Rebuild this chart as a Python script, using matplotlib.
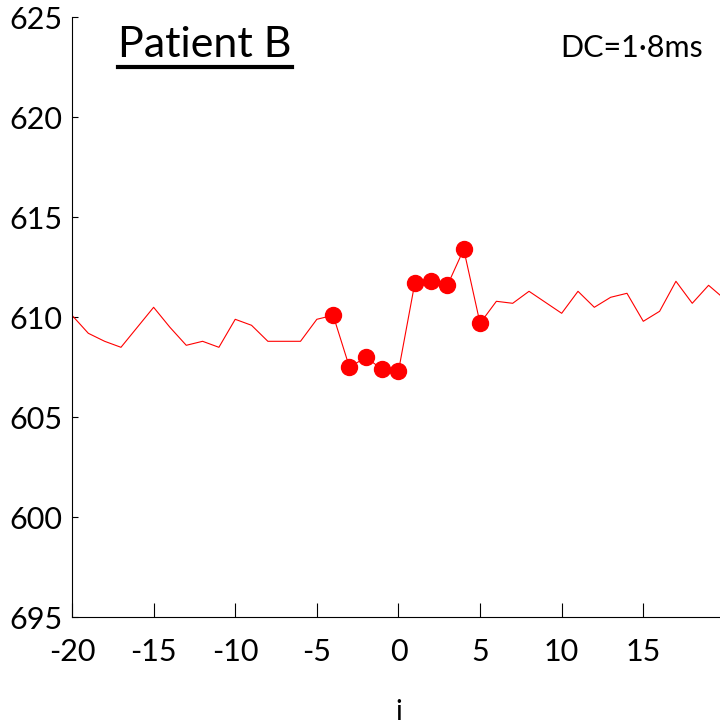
import numpy as np
import matplotlib
matplotlib.use('Agg')
import matplotlib.pyplot as plt
from matplotlib.lines import Line2D

plt.rcParams['font.family'] = ['Lato', 'DejaVu Sans']

# beat index relative to the deceleration, RR interval (ms)
beat = list(range(-20, 21))
rr = [610.1, 609.2, 608.8, 608.5, 609.5, 610.5, 609.5, 608.6, 608.8, 608.5,
      609.9, 609.6, 608.8, 608.8, 608.8, 609.9, 610.1, 607.5, 608.0, 607.4,
      607.3, 611.7, 611.8, 611.6, 613.4, 609.7, 610.8, 610.7, 611.3, 610.75,
      610.2, 611.3, 610.5, 611.0, 611.2, 609.8, 610.3, 611.8, 610.7, 611.6, 610.9]
hi_beat = list(range(-4, 6))
hi_rr = [rr[beat.index(b)] for b in hi_beat]

xticks = [-20, -15, -10, -5, 0, 5, 10, 15]
yticks = [595, 600, 605, 610, 615, 620, 625]
ylabels = ['695', '600', '605', '610', '615', '620', '625']

fig = plt.figure(figsize=(7.2, 7.26), dpi=100)
ax = fig.add_axes([0.1, 0.1497, 0.9, 0.8265])

ax.plot(beat, rr, color='red', lw=0.8)
ax.plot(hi_beat, hi_rr, 'o', color='red', ms=11.5, mec='red')

ax.set_xlim(-20, 19.7)
ax.set_ylim(595, 625)
ax.set_xticks(xticks)
ax.set_xticklabels([str(t) for t in xticks])
ax.set_yticks(yticks)
ax.set_yticklabels(ylabels)
ax.spines['top'].set_visible(False)
ax.spines['right'].set_visible(False)
ax.tick_params(axis='x', direction='in', length=10, pad=15, labelsize=22)
ax.tick_params(axis='y', direction='in', length=4, pad=7, labelsize=22)

fig.text(399 / 720, 1 / 726, 'i', ha='center', va='bottom', fontsize=20)
fig.text(703 / 720, 1 - 48 / 726, 'DC=1·8ms', ha='right', va='center', fontsize=22)
title = fig.text(118 / 720, 1 - 45 / 726, 'Patient B', ha='left', va='center', fontsize=31)

# underline under the title
fig.canvas.draw()
bb = title.get_window_extent()
W, H = fig.bbox.width, fig.bbox.height
uy = (bb.y0 - 3) / H
fig.add_artist(Line2D([bb.x0 / W, bb.x1 / W], [uy, uy], color='black', lw=3,
                      transform=fig.transFigure))

fig.savefig('out.png', dpi=100)
